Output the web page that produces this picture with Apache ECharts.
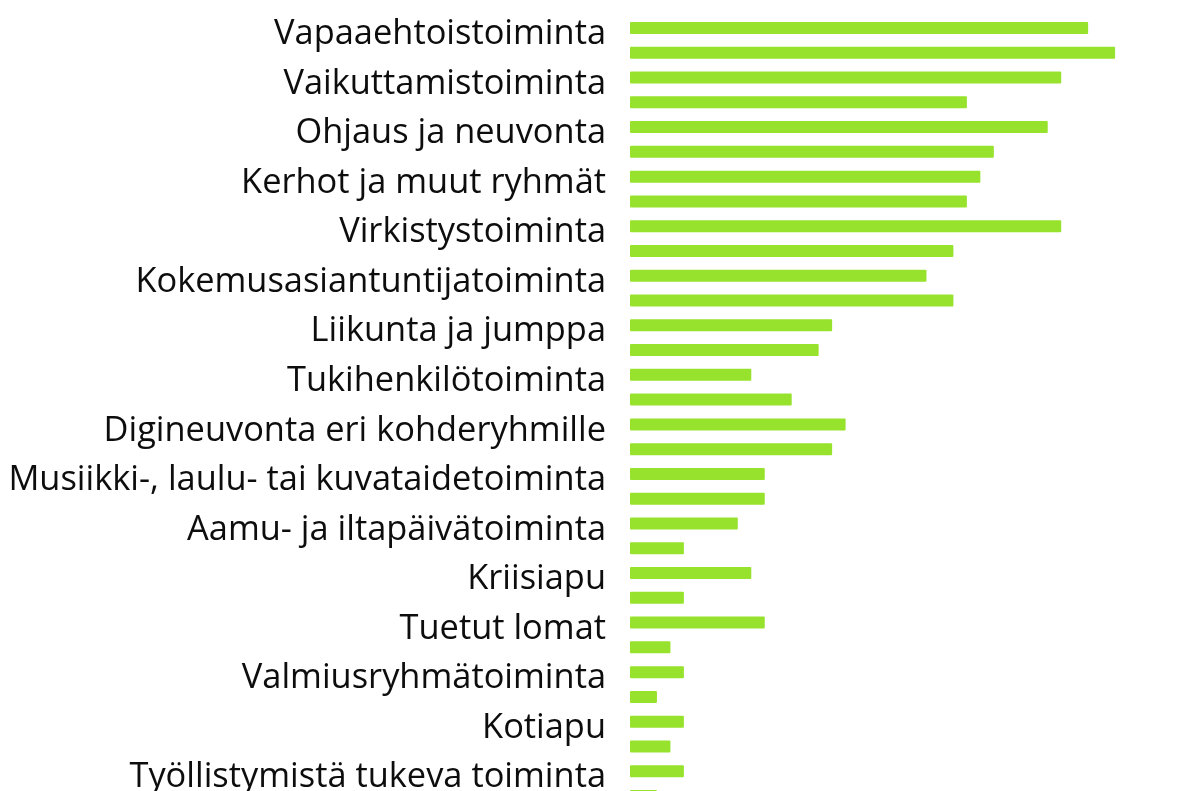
<!DOCTYPE html>
<html>
<head>
<meta charset="utf-8">
<script src="https://cdn.jsdelivr.net/npm/echarts@6/dist/echarts.min.js"></script>
<style>
  html, body { margin: 0; padding: 0; background: #fff; }
  #chart { width: 1192px; height: 791px; }
</style>
</head>
<body>
<div id="chart"></div>
<script>
// kategoriat ylhäältä alas
var categories = ['Vapaaehtoistoiminta', 'Vaikuttamistoiminta', 'Ohjaus ja neuvonta',
  'Kerhot ja muut ryhmät', 'Virkistystoiminta', 'Kokemusasiantuntijatoiminta',
  'Liikunta ja jumppa', 'Tukihenkilötoiminta', 'Digineuvonta eri kohderyhmille',
  'Musiikki-, laulu- tai kuvataidetoiminta', 'Aamu- ja iltapäivätoiminta', 'Kriisiapu',
  'Tuetut lomat', 'Valmiusryhmätoiminta', 'Kotiapu', 'Työllistymistä tukeva toiminta'];
var seriesA = [34, 32, 31, 26, 32, 22, 15, 9, 16, 10, 8, 9, 10, 4, 4, 4];
var seriesB = [36, 25, 27, 25, 24, 24, 14, 12, 15, 10, 4, 4, 3, 2, 3, 2];

var chart = echarts.init(document.getElementById('chart'));
chart.setOption({
  animation: false,
  grid: {
    left: 630,
    right: 23,
    top: 15.6,
    height: 792.8,
    containLabel: false,
    outerBoundsMode: 'none'
  },
  xAxis: {
    type: 'value',
    min: 0,
    max: 40,
    show: false
  },
  yAxis: {
    type: 'category',
    inverse: true,
    data: categories,
    axisLine: { show: false },
    axisTick: { show: false },
    splitLine: { show: false },
    axisLabel: {
      margin: 24,
      color: '#0d0d0d',
      fontFamily: 'Open Sans',
      fontSize: 34.4,
      verticalAlign: 'bottom',
      lineHeight: 12
    }
  },
  series: [
    {
      name: 'A',
      type: 'bar',
      barWidth: 12,
      barGap: '106%',
      itemStyle: { color: '#97e22c', borderRadius: 1 },
      data: seriesA
    },
    {
      name: 'B',
      type: 'bar',
      barWidth: 12,
      itemStyle: { color: '#97e22c', borderRadius: 1 },
      data: seriesB
    }
  ]
});
window.addEventListener('resize', function () { chart.resize(); });
</script>
</body>
</html>
